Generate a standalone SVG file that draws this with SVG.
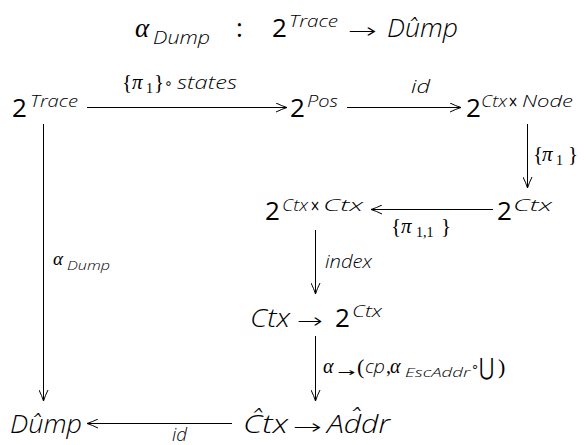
<svg xmlns="http://www.w3.org/2000/svg" width="586" height="445" viewBox="0 0 586 445">
<defs>
<style>
text{fill:#000}
.s{font-family:'Open Sans','Noto Sans',sans-serif;font-weight:400}
.it{font-style:italic;font-weight:350}
.big{font-size:26px}
.sup{font-size:17px}
.lab{font-size:18px}
.sym{font-family:'DejaVu Sans',sans-serif}
.ar{font-family:'DejaVu Sans',sans-serif;font-weight:200;font-size:21px}
.gr{font-family:'Liberation Serif','DejaVu Serif',serif;font-style:italic}
.rm{font-family:'Liberation Serif','DejaVu Serif',serif}
.conn line{stroke:#000;stroke-width:1;fill:none;marker-end:url(#ah)}
</style>
<marker id="ah" markerUnits="userSpaceOnUse" viewBox="0 0 12 10" refX="11" refY="5" markerWidth="12" markerHeight="10" orient="auto"><path d="M0,0.5 Q6,3.5 11,5 Q6,6.5 0,9.5" fill="none" stroke="#000" stroke-width="1"/></marker>
</defs>
<rect width="586" height="445" fill="#fff"/>

<g id="title">
<text class="gr" x="135" y="37" font-size="27">α</text>
<text class="s it" x="153" y="44" font-size="18" textLength="57" lengthAdjust="spacingAndGlyphs">Dump</text>
<text class="s big" x="236" y="37">:</text>
<text class="s big" x="272" y="37">2</text>
<text class="s it sup" x="289" y="27" textLength="49" lengthAdjust="spacingAndGlyphs">Trace</text>
<text class="ar" x="348" y="38" textLength="29" lengthAdjust="spacingAndGlyphs">→</text>
<text class="s it big" x="387" y="37" textLength="71" lengthAdjust="spacingAndGlyphs">Dûmp</text>
</g>

<g id="n-trace">
<text class="s big" x="12" y="117">2</text>
<text class="s it sup" x="30" y="107" textLength="48" lengthAdjust="spacingAndGlyphs">Trace</text>
</g>
<g id="n-pos">
<text class="s big" x="290" y="117">2</text>
<text class="s it sup" x="307" y="107" textLength="31" lengthAdjust="spacingAndGlyphs">Pos</text>
</g>
<g id="n-ctxnode">
<text class="s big" x="466" y="117">2</text>
<text class="s it sup" x="481" y="107" textLength="26" lengthAdjust="spacingAndGlyphs">Ctx</text>
<text class="sym" x="508" y="107" font-size="16" textLength="10" lengthAdjust="spacingAndGlyphs">×</text>
<text class="s it sup" x="522" y="107" textLength="51" lengthAdjust="spacingAndGlyphs">Node</text>
</g>
<g id="n-ctx">
<text class="s big" x="497" y="220">2</text>
<text class="s it sup" x="513" y="211" textLength="39" lengthAdjust="spacingAndGlyphs">Ctx</text>
</g>
<g id="n-ctxctx">
<text class="s big" x="265" y="220">2</text>
<text class="s it sup" x="282" y="211" textLength="26" lengthAdjust="spacingAndGlyphs">Ctx</text>
<text class="sym" x="310" y="211" font-size="16" textLength="10" lengthAdjust="spacingAndGlyphs">×</text>
<text class="s it sup" x="323" y="211" textLength="40" lengthAdjust="spacingAndGlyphs">Ctx</text>
</g>
<g id="n-ctxfun">
<text class="s it big" x="250" y="327" textLength="40" lengthAdjust="spacingAndGlyphs">Ctx</text>
<text class="ar" x="297" y="328" textLength="26" lengthAdjust="spacingAndGlyphs">→</text>
<text class="s big" x="335" y="327">2</text>
<text class="s it sup" x="352" y="317" textLength="30" lengthAdjust="spacingAndGlyphs">Ctx</text>
</g>
<g id="n-dump">
<text class="s it big" x="10" y="433" textLength="72" lengthAdjust="spacingAndGlyphs">Dûmp</text>
</g>
<g id="n-ctxaddr">
<text class="s it big" x="243" y="433" textLength="45" lengthAdjust="spacingAndGlyphs">Ĉtx</text>
<text class="ar" x="293" y="434" textLength="29" lengthAdjust="spacingAndGlyphs">→</text>
<text class="s it big" x="327" y="433" textLength="63" lengthAdjust="spacingAndGlyphs">Ad̂dr</text>
</g>

<g class="conn" id="connectors">
<line x1="87" y1="107.5" x2="287" y2="107.5"/>
<line x1="347" y1="107.5" x2="461" y2="107.5"/>
<line x1="527.5" y1="124" x2="527.5" y2="188"/>
<line x1="493" y1="209.5" x2="371" y2="209.5"/>
<line x1="315.5" y1="230" x2="315.5" y2="294"/>
<line x1="315.5" y1="336" x2="315.5" y2="401"/>
<line x1="43.5" y1="124" x2="43.5" y2="401"/>
<line x1="232" y1="423.5" x2="87" y2="423.5"/>
</g>

<g id="labels">
<text y="89"><tspan class="rm" x="122" font-size="21">{</tspan><tspan class="gr" x="132" font-size="21">π</tspan><tspan class="rm" x="146" y="93" font-size="14">1</tspan><tspan class="rm" x="154" y="89" font-size="21">}</tspan><tspan class="sym" x="164" y="88" font-size="14">∘</tspan><tspan class="s it" x="177" y="89" font-size="18" textLength="60" lengthAdjust="spacingAndGlyphs">states</tspan></text>
<text class="s it lab" x="411" y="93" textLength="19" lengthAdjust="spacingAndGlyphs">id</text>
<text y="161"><tspan class="rm" x="533" font-size="21">{</tspan><tspan class="gr" x="542" font-size="21">π</tspan><tspan class="rm" x="556" y="165" font-size="14">1</tspan><tspan class="rm" x="568" y="161" font-size="21">}</tspan></text>
<text y="233"><tspan class="rm" x="391" font-size="21">{</tspan><tspan class="gr" x="401" font-size="21">π</tspan><tspan class="rm" x="416" y="237" font-size="14">1,1</tspan><tspan class="rm" x="441" y="233" font-size="21">}</tspan></text>
<text class="s it lab" x="325" y="268" textLength="47" lengthAdjust="spacingAndGlyphs">index</text>
<text y="373"><tspan class="gr" x="323" font-size="20">α</tspan><tspan class="sym" x="337" y="376" font-size="11" textLength="18" lengthAdjust="spacingAndGlyphs">→</tspan><tspan class="rm" x="357" y="374" font-size="22">(</tspan><tspan class="s it" x="365" y="373" font-size="18" textLength="20" lengthAdjust="spacingAndGlyphs">cp</tspan><tspan class="rm" x="386" font-size="20">,</tspan><tspan class="gr" x="390" font-size="20">α</tspan><tspan class="s it" x="405" y="377" font-size="13" textLength="65" lengthAdjust="spacingAndGlyphs">EscAddr</tspan><tspan class="sym" x="471" y="371" font-size="13">∘</tspan><tspan class="sym" x="479" y="375" font-size="24" textLength="15" lengthAdjust="spacingAndGlyphs">⋃</tspan><tspan class="rm" x="498" y="374" font-size="22">)</tspan></text>
<text y="265"><tspan class="gr" x="53" font-size="19">α</tspan><tspan class="s it" x="67" y="270" font-size="13" textLength="43" lengthAdjust="spacingAndGlyphs">Dump</tspan></text>
<text class="s it lab" x="172" y="441" textLength="15" lengthAdjust="spacingAndGlyphs">id</text>
</g>
</svg>
